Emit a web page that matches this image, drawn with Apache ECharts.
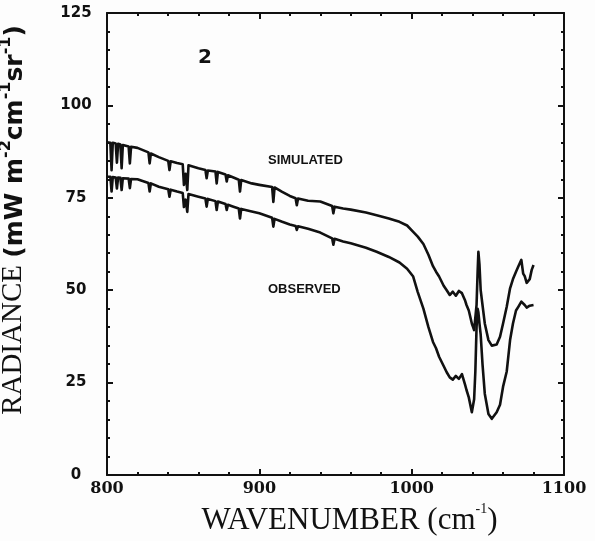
<!DOCTYPE html>
<html>
<head>
<meta charset="utf-8">
<script src="https://cdn.jsdelivr.net/npm/echarts@6/dist/echarts.min.js"></script>
<style>
  html, body { margin: 0; padding: 0; background: #fdfdfd; }
  #chart { width: 595px; height: 541px; }
</style>
</head>
<body>
<div id="chart"></div>
<script>
// Spectral radiance, case 2: simulated vs observed (mW m-2 cm-1 sr-1)
const wavenumber = [
  800, 802.2, 803, 803.8, 805.7, 806.5, 807.3, 808.8, 809.6, 810.4,
  814.2, 815, 815.8, 820, 827.2, 828, 828.8, 834, 840.2, 841,
  841.8, 846, 849.7, 850.5, 851.6, 852.7, 853.5, 860, 864.6, 865.4,
  866.2, 871.2, 872, 872.8, 877.8, 878.6, 879.4, 883, 886.5, 887.3,
  888.1, 895, 900, 908.4, 909.2, 910, 915, 920, 923.8, 924.6,
  925.4, 932, 940, 947.8, 948.6, 949.4, 955, 960, 970, 977,
  985, 992, 997, 1001, 1004, 1007.7, 1011, 1014, 1016, 1018,
  1021, 1023, 1025, 1027, 1029, 1031, 1033, 1035, 1036, 1037.5,
  1039.5, 1041, 1041.8, 1042.6, 1043.3, 1043.8, 1044.5, 1045.3, 1046.5, 1048,
  1050.4, 1052.6, 1053.7, 1055.8, 1058, 1060, 1062.4, 1064.6, 1066.5, 1068.5,
  1070, 1072, 1073.2, 1074.2, 1075.5, 1076.5, 1077.5, 1078.8, 1080
];

const simulated = [
  90.0, 89.9, 82.5, 89.9, 89.7, 84.5, 89.6, 89.4, 83.0, 89.3,
  88.9, 84.3, 88.8, 88.5, 87.3, 84.3, 87.0, 86.0, 85.0, 82.5,
  84.9, 84.4, 84.1, 78.5, 81.5, 77.1, 83.8, 83.0, 82.5, 80.3,
  82.4, 82.1, 78.9, 82.0, 81.3, 79.4, 81.1, 80.5, 79.9, 76.7,
  79.8, 78.9, 78.5, 77.9, 73.9, 77.8, 76.6, 75.5, 74.9, 73.0,
  74.8, 74.2, 74.0, 72.8, 70.8, 72.6, 72.1, 71.8, 71.0, 70.3,
  69.4, 68.5, 67.5, 65.8, 64.5, 62.5, 59.6, 56.5, 55.0, 53.7,
  51.2, 50.0, 48.7, 49.6, 48.5, 49.8, 49.2, 47.3, 46.0, 44.5,
  41.0, 39.2, 39.0, 46.0, 55.0, 60.4, 57.0, 50.0, 46.0, 41.0,
  36.5, 35.0, 34.7, 35.3, 37.4, 41.0, 45.5, 50.5, 53.0, 55.0,
  56.4, 58.2, 54.5, 53.8, 52.0, 51.5, 53.0, 55.5, 56.8
];

const observed = [
  80.7, 80.7, 76.7, 80.6, 80.5, 77.5, 80.5, 80.4, 77.1, 80.3,
  80.2, 77.6, 80.1, 80.0, 79.0, 76.7, 78.9, 78.0, 77.3, 75.3,
  77.2, 76.7, 76.3, 72.5, 74.5, 71.2, 76.0, 75.3, 74.8, 72.6,
  74.7, 74.1, 71.7, 74.0, 73.3, 71.7, 73.1, 72.6, 72.1, 69.4,
  72.0, 71.3, 70.8, 69.6, 67.2, 69.3, 68.5, 67.8, 67.4, 66.3,
  67.3, 66.6, 65.6, 64.0, 62.3, 63.9, 63.2, 62.7, 61.5, 60.4,
  59.0, 57.5, 55.8, 53.7, 49.5, 45.0, 40.0, 36.0, 34.3, 32.0,
  29.5, 27.8, 26.4, 25.8, 26.8, 26.0, 27.3, 24.5, 23.0, 21.0,
  17.0, 20.5, 28.0, 40.0, 45.0, 44.0, 41.0, 38.0, 30.0, 22.0,
  16.5, 15.2, 15.6, 17.0, 19.0, 23.9, 28.0, 36.5, 41.0, 44.5,
  45.5, 46.9, 46.5, 46.0, 45.3, 45.6, 45.8, 46.0, 46.0
];

const xRange = [800, 1100];
const yRange = [0, 125];
const panelLabel = '2';
const seriesNames = ['SIMULATED', 'OBSERVED'];

const ink = '#111';
const pairs = (ys) => wavenumber.map((x, i) => [x, ys[i]]);

// one side of the boxed frame: inward major and minor ticks
function frameAxis(position, range, interval, extra) {
  return Object.assign({
    type: 'value',
    position: position,
    min: range[0],
    max: range[1],
    interval: interval,
    axisLine: { show: true, onZero: false, lineStyle: { color: ink, width: 2 } },
    axisTick: { show: true, inside: true, length: 6, lineStyle: { color: ink, width: 2 } },
    minorTick: { show: true, splitNumber: 5, length: 3, lineStyle: { color: ink, width: 2 } },
    splitLine: { show: false },
    axisLabel: { show: false }
  }, extra || {});
}

const chart = echarts.init(document.getElementById('chart'));

chart.setOption({
  animation: false,
  title: [
    { text: panelLabel, left: 198, top: 48, padding: 0,
      textStyle: { color: ink, fontFamily: 'DejaVu Sans', fontWeight: 'bold', fontSize: 20 } },
    { text: seriesNames[0], left: 268, top: 154, padding: 0,
      textStyle: { color: ink, fontFamily: 'Liberation Sans', fontWeight: 'bold', fontSize: 13 } },
    { text: seriesNames[1], left: 268, top: 283, padding: 0,
      textStyle: { color: ink, fontFamily: 'Liberation Sans', fontWeight: 'bold', fontSize: 13 } }
  ],
  // only the tick labels are kept inside the outer bounds, so the axis titles never shrink the frame
  grid: { left: 107, top: 13, width: 457, height: 462, outerBoundsContain: 'axisLabel' },
  xAxis: [
    frameAxis('bottom', xRange, 100, {
      axisLabel: { show: true, color: ink, fontFamily: 'DejaVu Serif', fontWeight: 'bold', fontSize: 16, margin: 6,
        formatter: (v) => String(v) },
      name: '{t|WAVENUMBER (}{t|cm}{s|-1}{t|)}',
      nameLocation: 'middle',
      nameGap: 26,
      nameTextStyle: {
        color: ink, padding: [0, 0, 0, 28],
        rich: {
          t: { fontFamily: 'Liberation Serif', fontSize: 31, lineHeight: 34, verticalAlign: 'bottom', color: ink },
          s: { fontFamily: 'Liberation Serif', fontSize: 14, lineHeight: 20, verticalAlign: 'top', color: ink }
        }
      }
    }),
    frameAxis('top', xRange, 100)
  ],
  yAxis: [
    frameAxis('left', yRange, 25, {
      axisLabel: { show: true, color: ink, fontFamily: 'DejaVu Sans', fontWeight: 'bold', fontSize: 15, align: 'center', margin: 31,
        formatter: (v) => String(v) },
      name: '{t|RADIANCE }{u|(mW m}{s|-2}{u|cm}{s|-1}{u|sr}{s|-1}{u|)}',
      nameLocation: 'middle',
      nameRotate: 90,
      nameGap: 79,
      nameTextStyle: {
        color: ink, padding: [0, 0, 0, 48],
        rich: {
          t: { fontFamily: 'Liberation Serif', fontSize: 29, lineHeight: 30, verticalAlign: 'bottom', color: ink },
          u: { fontFamily: 'DejaVu Sans', fontWeight: 'bold', fontSize: 25, lineHeight: 29, verticalAlign: 'bottom', color: ink },
          s: { fontFamily: 'DejaVu Sans', fontWeight: 'bold', fontSize: 16, lineHeight: 22, verticalAlign: 'top', color: ink }
        }
      }
    }),
    frameAxis('right', yRange, 25)
  ],
  series: [
    {
      name: seriesNames[0], type: 'line', data: pairs(simulated),
      showSymbol: false, symbol: 'none',
      lineStyle: { color: ink, width: 2.6, join: 'round' }
    },
    {
      name: seriesNames[1], type: 'line', data: pairs(observed),
      showSymbol: false, symbol: 'none',
      lineStyle: { color: ink, width: 2.6, join: 'round' }
    }
  ]
});
</script>
</body>
</html>
